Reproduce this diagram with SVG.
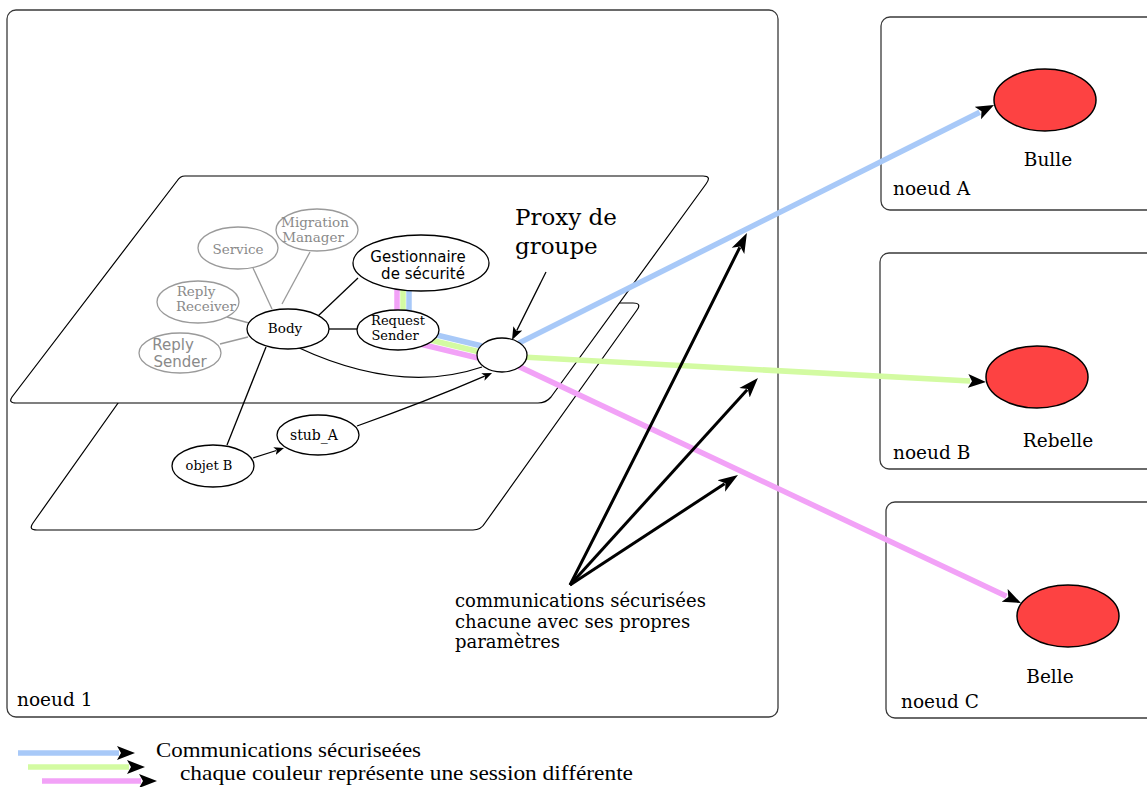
<svg xmlns="http://www.w3.org/2000/svg" width="1147" height="787" viewBox="0 0 1147 787">
  <defs>
    <style>
      .frame { fill: #ffffff; stroke: #3a3a3a; stroke-width: 1.3; }
      .plane { fill: #ffffff; stroke: #000000; stroke-width: 1.2; }
      .obj { fill: #ffffff; stroke: #000000; stroke-width: 1.3; }
      .grey { fill: #ffffff; stroke: #9a9a9a; stroke-width: 1.3; }
      .peer { fill: #fd4242; stroke: #000000; stroke-width: 1.5; }
      .link { fill: none; stroke: #000000; stroke-width: 1.3; }
      .glink { fill: none; stroke: #9a9a9a; stroke-width: 1.3; }
      .blue { fill: none; stroke: #a8c9f8; stroke-width: 5.5; }
      .green { fill: none; stroke: #d3fba2; stroke-width: 5.5; }
      .pink { fill: none; stroke: #f2a2f7; stroke-width: 5.5; }
      .big { fill: none; stroke: #000000; stroke-width: 3; }
      .serif { font-family: "DejaVu Serif", serif; fill: #000000; }
      .sans { font-family: "DejaVu Sans", sans-serif; fill: #000000; }
      .times { font-family: "Liberation Serif", serif; fill: #000000; }
      .gtxt { fill: #8a8a8a; }
      .mid { text-anchor: middle; }
    </style>
    <marker id="headBold" markerUnits="userSpaceOnUse" markerWidth="20" markerHeight="16" viewBox="0 -8 20 16" refX="2" refY="0" orient="auto">
      <path d="M0,-7 L18,0 L0,7 L4,0 Z" fill="#000000"/>
    </marker>
    <marker id="headBig" markerUnits="userSpaceOnUse" markerWidth="22" markerHeight="16" viewBox="0 -8 22 16" refX="4" refY="0" orient="auto">
      <path d="M0,-7 L20,0 L0,7 L5,0 Z" fill="#000000"/>
    </marker>
    <marker id="headMid" markerUnits="userSpaceOnUse" markerWidth="14" markerHeight="12" viewBox="0 -6 14 12" refX="2.5" refY="0" orient="auto">
      <path d="M0,-5 L13,0 L0,5 L3,0 Z" fill="#000000"/>
    </marker>
    <marker id="headSmall" markerUnits="userSpaceOnUse" markerWidth="11" markerHeight="10" viewBox="0 -5 11 10" refX="2" refY="0" orient="auto">
      <path d="M0,-4 L10,0 L0,4 L2.5,0 Z" fill="#000000"/>
    </marker>
  </defs>

  <rect x="0" y="0" width="1147" height="787" fill="#ffffff"/>

  <!-- host machine frames -->
  <g id="noeud1">
    <rect class="frame" x="7" y="10" width="771" height="707" rx="9"/>
    <text class="serif" x="17" y="706" font-size="18.5">noeud 1</text>
  </g>
  <g id="noeudA">
    <rect class="frame" x="881" y="17" width="300" height="193" rx="9"/>
    <text class="serif" x="893" y="195" font-size="18.5">noeud A</text>
  </g>
  <g id="noeudB">
    <rect class="frame" x="880" y="253" width="300" height="216" rx="9"/>
    <text class="serif" x="893" y="459" font-size="18.5">noeud B</text>
  </g>
  <g id="noeudC">
    <rect class="frame" x="886" y="502" width="300" height="216" rx="9"/>
    <text class="serif" x="901" y="708" font-size="18.5">noeud C</text>
  </g>

  <!-- two stacked planes of the runtime -->
  <g id="planes">
    <path class="plane" d="M189,303 L633,303 Q642,303 637,310 L485,523 Q481,530 473,530 L37,530 Q28,530 33,523 Z"/>
    <path class="plane" d="M185,176 L703,176 Q712,176 706,184 L551,397 Q546,403 538,403 L16,403 Q8,403 12,397 L177,181 Q180,176 185,176 Z"/>
  </g>

  <!-- connectors -->
  <g id="connectors">
    <!-- secured sessions -->
    <path class="pink" d="M397,284 L397,316"/>
    <path class="green" d="M403,284 L403,316"/>
    <path class="blue" d="M409,284 L409,316"/>
    <path class="blue" d="M420,331 L482,346"/>
    <path class="green" d="M418,337 L480,352"/>
    <path class="pink" d="M416,343 L478,358"/>
    <path class="blue" d="M505,350 L979.7,112.2" marker-end="url(#headBold)"/>
    <path class="green" d="M505,356 L970,381.1" marker-end="url(#headBold)"/>
    <path class="pink" d="M505,360 L1006.5,596.2" marker-end="url(#headBold)"/>

    <!-- object graph links -->
    <path class="glink" d="M272,309 L253,268"/>
    <path class="glink" d="M282,304 L310,252"/>
    <path class="glink" d="M227,317 L249,323"/>
    <path class="glink" d="M220,344 L248,337"/>
    <path class="link" d="M318,316 L358,278"/>
    <path class="link" d="M329,329 L357,329"/>
    <path class="link" d="M297,347 Q400,395 482,367"/>
    <path class="link" d="M266,347 L227,445"/>
    <path class="link" d="M253,458 L276.4,450.5" marker-end="url(#headSmall)"/>
    <path class="link" d="M357,426 Q425,402 484.7,376.2" marker-end="url(#headSmall)"/>
  </g>

  <!-- annotation arrows -->
  <g id="annotations">
    <path class="link" stroke-width="1.8" d="M546,272 L516.7,330.6" marker-end="url(#headMid)"/>
    <path class="big" d="M570,585 Q658,412 739.8,247.3" marker-end="url(#headBig)"/>
    <path class="big" d="M570,585 L747.2,389.8" marker-end="url(#headBig)"/>
    <path class="big" d="M570,585 L724.6,483.8" marker-end="url(#headBig)"/>
  </g>

  <!-- active object internals -->
  <g id="service">
    <ellipse class="grey" cx="238" cy="248" rx="40" ry="21"/>
    <text class="serif gtxt mid" x="238" y="254" font-size="13.5">Service</text>
  </g>
  <g id="migration-manager">
    <ellipse class="grey" cx="317" cy="230" rx="41" ry="21"/>
    <text class="serif gtxt mid" x="315" y="227" font-size="13.5">Migration</text>
    <text class="serif gtxt mid" x="313" y="242" font-size="13.5">Manager</text>
  </g>
  <g id="reply-receiver">
    <ellipse class="grey" cx="198" cy="302" rx="41" ry="21"/>
    <text class="serif gtxt mid" x="196" y="296" font-size="13.5">Reply</text>
    <text class="serif gtxt mid" x="206" y="311" font-size="13.5">Receiver</text>
  </g>
  <g id="reply-sender">
    <ellipse class="grey" cx="180" cy="353" rx="41" ry="20"/>
    <text class="sans gtxt mid" x="173" y="350" font-size="15">Reply</text>
    <text class="sans gtxt mid" x="180" y="367" font-size="15">Sender</text>
  </g>
  <g id="body">
    <ellipse class="obj" cx="288" cy="329" rx="41" ry="20"/>
    <text class="serif mid" x="285" y="333" font-size="13.5">Body</text>
  </g>
  <g id="gestionnaire">
    <ellipse class="obj" cx="421" cy="263" rx="68" ry="28"/>
    <text class="sans mid" x="418" y="262" font-size="15">Gestionnaire</text>
    <text class="sans mid" x="423" y="279" font-size="15">de sécurité</text>
  </g>
  <g id="request-sender">
    <ellipse class="obj" cx="398" cy="330" rx="41" ry="20"/>
    <text class="serif mid" x="398" y="325" font-size="13">Request</text>
    <text class="serif mid" x="395" y="340" font-size="13">Sender</text>
  </g>
  <g id="proxy">
    <ellipse class="obj" cx="502" cy="355" rx="25" ry="17"/>
  </g>
  <g id="stub-a">
    <ellipse class="obj" cx="318" cy="435" rx="41" ry="20"/>
    <text class="serif mid" x="314" y="440" font-size="14">stub_A</text>
  </g>
  <g id="objet-b">
    <ellipse class="obj" cx="213" cy="466" rx="41" ry="21"/>
    <text class="serif mid" x="209" y="470" font-size="13">objet B</text>
  </g>

  <!-- remote objects -->
  <g id="bulle">
    <ellipse class="peer" cx="1045" cy="100" rx="51" ry="31"/>
    <text class="serif mid" x="1048" y="166" font-size="18.5">Bulle</text>
  </g>
  <g id="rebelle">
    <ellipse class="peer" cx="1037" cy="377" rx="51" ry="31"/>
    <text class="serif mid" x="1058" y="447" font-size="18.5">Rebelle</text>
  </g>
  <g id="belle">
    <ellipse class="peer" cx="1068" cy="616" rx="51" ry="31"/>
    <text class="serif mid" x="1050" y="683" font-size="18.5">Belle</text>
  </g>

  <!-- labels -->
  <g id="labels">
    <text class="serif" x="515" y="225" font-size="23">Proxy de</text>
    <text class="serif" x="515" y="254" font-size="23">groupe</text>
    <text class="serif" x="455" y="607" font-size="18">communications sécurisées</text>
    <text class="serif" x="455" y="628" font-size="18">chacune avec ses propres</text>
    <text class="serif" x="455" y="648" font-size="18">paramètres</text>
  </g>

  <!-- legend -->
  <g id="legend">
    <path class="blue" d="M18,753 L119,753" marker-end="url(#headBold)"/>
    <path class="green" d="M28,767 L129,767" marker-end="url(#headBold)"/>
    <path class="pink" d="M42,781 L141,781" marker-end="url(#headBold)"/>
    <text class="times" x="156" y="757" font-size="22" textLength="265" lengthAdjust="spacingAndGlyphs">Communications sécuriseées</text>
    <text class="times" x="180" y="780" font-size="22" textLength="453" lengthAdjust="spacingAndGlyphs">chaque couleur représente une session différente</text>
  </g>
</svg>
